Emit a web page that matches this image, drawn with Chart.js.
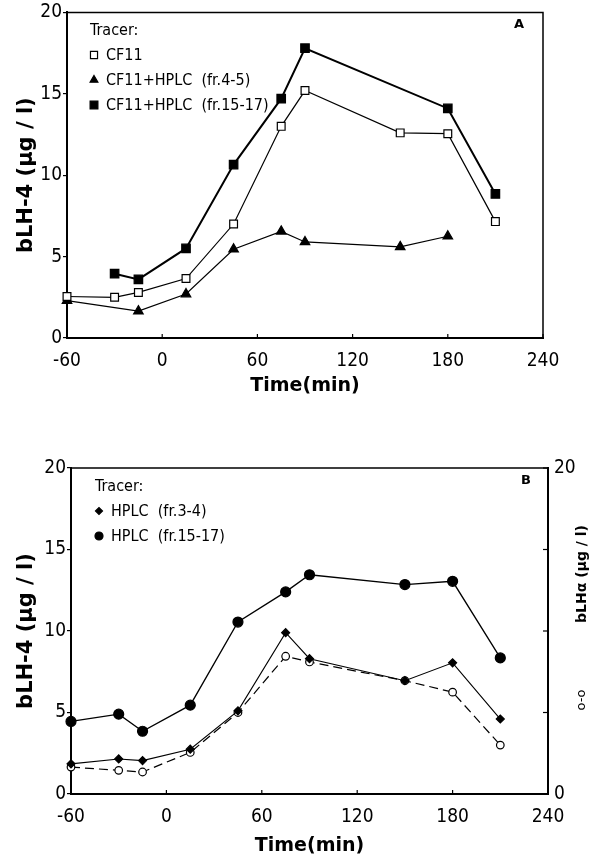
<!DOCTYPE html>
<html>
<head>
<meta charset="utf-8">
<script src="https://cdn.jsdelivr.net/npm/chart.js@4/dist/chart.umd.min.js"></script>
<style>
  body { margin: 0; background: #fff; }
  .panel { position: absolute; left: 0; width: 589px; }
  #boxA { top: 0; height: 410px; }
  #boxB { top: 420px; height: 442px; }
</style>
</head>
<body>
<div class="panel" id="boxA"><canvas id="chartA"></canvas></div>
<div class="panel" id="boxB"><canvas id="chartB"></canvas></div>
<script>
'use strict';

// sampling times (min), same for both panels
var times = [-60, -30, -15, 15, 45, 75, 90, 150, 180, 210];
var xTicks = [-60, 0, 60, 120, 180, 240];
var yTicks = [0, 5, 10, 15, 20];

// panel A, bLH-4 (ug/l)
var cf11 = [2.55, 2.5, 2.8, 3.65, 7.0, 13.0, 15.2, 12.6, 12.55, 7.15];
var cf11Fr45 = [2.3, null, 1.65, 2.7, 5.45, 6.55, 5.9, 5.6, 6.25, null];
var cf11Fr1517 = [null, 3.95, 3.6, 5.5, 10.65, 14.7, 17.8, null, 14.1, 8.85];

// panel B, bLH-4 and bLHa (ug/l)
var hplcFr34 = [1.85, 2.15, 2.05, 2.75, 5.1, 9.9, 8.3, 6.95, 8.05, 4.6];
var hplcFr1517 = [4.45, 4.9, 3.85, 5.45, 10.55, 12.4, 13.45, 12.85, 13.05, 8.35];
var bLHalpha = [1.65, 1.45, 1.35, 2.55, 5.0, 8.45, 8.1, 6.95, 6.25, 3.0];

var narrow = "'DejaVu Sans Condensed', 'Liberation Sans Narrow', 'DejaVu Sans', sans-serif";
var boldFont = "'DejaVu Sans', sans-serif";

function points(values) {
  var out = [];
  for (var i = 0; i < times.length; i++) {
    if (values[i] !== null) out.push({x: times[i], y: values[i]});
  }
  return out;
}

function series(label, values, style) {
  var ds = {
    label: label,
    data: points(values),
    borderColor: '#000',
    backgroundColor: '#000',
    pointBorderColor: '#000',
    pointBackgroundColor: style.fill || '#000',
    pointStyle: style.point,
    pointRadius: style.radius,
    pointBorderWidth: style.pointBorder || 1.2,
    borderWidth: style.width || 1.2,
    borderDash: style.dash || [],
    tension: 0,
    clip: false,
    yAxisID: style.axis || 'y'
  };
  ds.legendRadius = style.legendRadius || 3;
  ds.noLegend = !!style.noLegend;
  return ds;
}

// legend box, panel letter, frame and inner ticks
var decorations = {
  id: 'decorations',
  afterDraw: function(chart, args, opts) {
    var ctx = chart.ctx;
    var area = chart.chartArea;
    ctx.save();
    ctx.strokeStyle = '#000';
    ctx.lineWidth = 1.5;
    ctx.beginPath();
    ctx.moveTo(area.left, area.top);
    ctx.lineTo(area.right, area.top);
    ctx.lineTo(area.right, area.bottom);
    ctx.stroke();

    // inner tick marks on the time axis
    var xs = chart.scales.x;
    ctx.lineWidth = 1.2;
    xs.ticks.forEach(function(t) {
      var px = xs.getPixelForValue(t.value);
      ctx.beginPath();
      ctx.moveTo(px, area.bottom);
      ctx.lineTo(px, area.bottom - 4);
      ctx.stroke();
    });
    if (chart.scales.y2) {
      var ys = chart.scales.y2;
      ys.ticks.forEach(function(t) {
        var py = ys.getPixelForValue(t.value);
        ctx.beginPath();
        ctx.moveTo(area.right, py);
        ctx.lineTo(area.right - 5, py);
        ctx.stroke();
      });
    }

    // legend
    ctx.fillStyle = '#000';
    ctx.font = 'condensed 16px ' + narrow;
    ctx.textBaseline = 'middle';
    ctx.textAlign = 'left';
    ctx.fillText('Tracer:', opts.x, opts.y);
    var row = 0;
    chart.data.datasets.forEach(function(ds) {
      if (ds.noLegend) return;
      var y = opts.y + opts.first + row * opts.rowH;
      ctx.fillStyle = ds.pointBackgroundColor;
      ctx.strokeStyle = '#000';
      ctx.lineWidth = 1.2;
      Chart.helpers.drawPoint(ctx, {pointStyle: ds.pointStyle, radius: ds.legendRadius, borderWidth: 1.2, rotation: 0}, opts.x + 4, y);
      ctx.fillStyle = '#000';
      ctx.fillText(ds.label, opts.x + 16, y + 1);
      row++;
    });

    // panel letter
    ctx.font = 'bold 13px ' + boldFont;
    ctx.textAlign = 'center';
    ctx.fillText(opts.letter, opts.letterX, opts.letterY);

    // right-hand axis title, read bottom to top like the left one
    if (opts.rightTitle) {
      ctx.translate(opts.rightX, opts.rightY);
      ctx.rotate(-Math.PI / 2);
      ctx.font = 'bold 14px ' + boldFont;
      ctx.fillText(opts.rightTitle, 0, 0);
      ctx.font = '13px ' + boldFont;
      ctx.fillText('o-o', -126, 0);
    }
    ctx.restore();
  }
};

function xScale(titlePad) {
  return {
    type: 'linear',
    min: -60, max: 240,
    afterBuildTicks: function(s) { s.ticks = xTicks.map(function(v) { return {value: v}; }); },
    grid: {drawOnChartArea: false, drawTicks: false},
    border: {color: '#000', width: 2},
    ticks: {color: '#000', padding: 12, font: {family: narrow, size: 19, weight: 'condensed'}, maxRotation: 0},
    title: {display: true, text: 'Time(min)', color: '#000', padding: {top: 0, bottom: titlePad},
      font: {family: boldFont, size: 19, weight: 'bold'}}
  };
}

function yScale(width) {
  return {
    min: 0, max: 20,
    afterBuildTicks: function(s) { s.ticks = yTicks.map(function(v) { return {value: v}; }); },
    afterFit: function(s) { s.width = width; },
    grid: {drawOnChartArea: false, tickLength: 4, color: '#000', lineWidth: 1.2},
    border: {color: '#000', width: 2},
    ticks: {color: '#000', padding: 1, font: {family: narrow, size: 19, weight: 'condensed'}},
    title: {display: true, text: 'bLH-4 (µg / l)', color: '#000', padding: {top: 14, bottom: 0},
      font: {family: boldFont, size: 21, weight: 'bold'}}
  };
}

var xA = xScale(13);
xA.afterFit = function(s) { s.height = 72; };

new Chart(document.getElementById('chartA'), {
  type: 'line',
  data: {
    datasets: [
      series('CF11', cf11, {point: 'rect', radius: 5.5, fill: '#fff', legendRadius: 5}),
      series('CF11+HPLC  (fr.4-5)', cf11Fr45, {point: 'triangle', radius: 5.5, legendRadius: 4.5}),
      series('CF11+HPLC  (fr.15-17)', cf11Fr1517, {point: 'rect', radius: 6, width: 2, legendRadius: 5.5})
    ]
  },
  options: {
    responsive: true,
    maintainAspectRatio: false,
    animation: false,
    layout: {padding: {top: 12, right: 46, left: 0, bottom: 0}},
    scales: {x: xA, y: yScale(67)},
    plugins: {
      legend: {display: false},
      tooltip: {enabled: false},
      decorations: {x: 90, y: 31, first: 24, rowH: 25, letter: 'A', letterX: 519, letterY: 25}
    }
  },
  plugins: [decorations]
});

var xB = xScale(5);
xB.afterFit = function(s) { s.height = 68; };
var y2 = {
  position: 'right',
  min: 0, max: 20,
  afterBuildTicks: function(s) { s.ticks = yTicks.map(function(v) { return {value: v}; }); },
  afterFit: function(s) { s.width = 41; },
  grid: {drawOnChartArea: false, drawTicks: false},
  border: {color: '#000', width: 2},
  ticks: {color: '#000', padding: 6, font: {family: narrow, size: 19, weight: 'condensed'},
    callback: function(v) { return (v === 0 || v === 20) ? String(v) : ''; }}
};

new Chart(document.getElementById('chartB'), {
  type: 'line',
  data: {
    datasets: [
      series('HPLC  (fr.3-4)', hplcFr34, {point: 'rectRot', radius: 4, width: 1.1, legendRadius: 3.5}),
      series('HPLC  (fr.15-17)', hplcFr1517, {point: 'circle', radius: 5, width: 1.3, legendRadius: 4}),
      series('bLHa', bLHalpha, {point: 'circle', radius: 3.8, fill: '#fff', width: 1.2, dash: [9, 5], axis: 'y2', noLegend: true})
    ]
  },
  options: {
    responsive: true,
    maintainAspectRatio: false,
    animation: false,
    layout: {padding: {top: 48, right: 0, left: 0, bottom: 0}},
    scales: {x: xB, y: yScale(71), y2: y2},
    plugins: {
      legend: {display: false},
      tooltip: {enabled: false},
      decorations: {x: 95, y: 67, first: 24, rowH: 25, letter: 'B', letterX: 526, letterY: 61,
        rightTitle: 'bLHα (µg / l)', rightX: 582, rightY: 154}
    }
  },
  plugins: [decorations]
});
</script>
</body>
</html>
